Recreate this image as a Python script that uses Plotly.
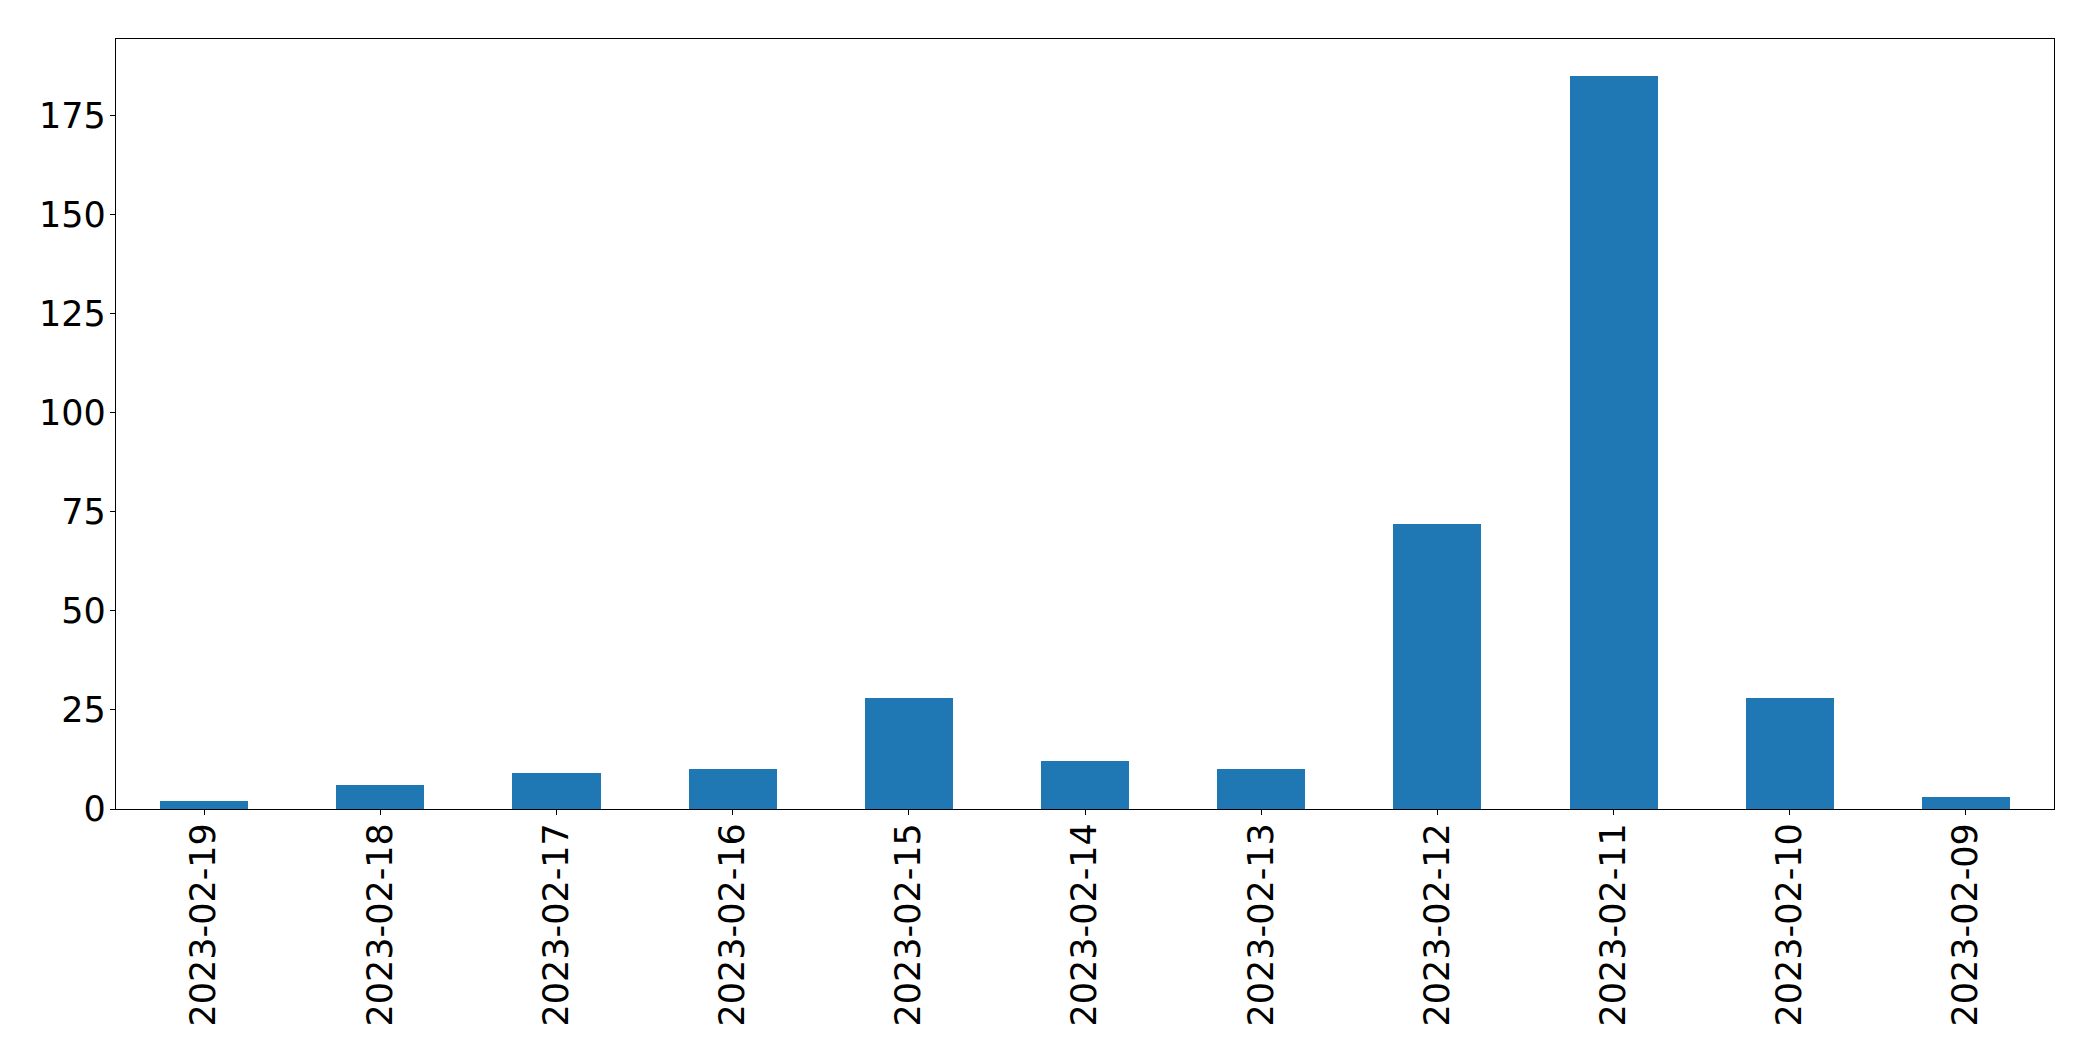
import plotly.graph_objects as go

dates = ["2023-02-19", "2023-02-18", "2023-02-17", "2023-02-16", "2023-02-15",
         "2023-02-14", "2023-02-13", "2023-02-12", "2023-02-11", "2023-02-10",
         "2023-02-09"]
counts = [2, 6, 9, 10, 28, 12, 10, 72, 185, 28, 3]
y_ticks = [0, 25, 50, 75, 100, 125, 150, 175]

fig = go.Figure()
fig.add_trace(go.Bar(x=dates, y=counts, width=0.5, marker=dict(color="#1f77b4", line=dict(width=0)),
                     showlegend=False))

font = dict(family="DejaVu Sans", size=35, color="black")
fig.update_layout(
    width=2077, height=1045,
    margin=dict(l=108, r=31, t=31, b=244, pad=0),
    paper_bgcolor="white", plot_bgcolor="white",
    font=font,
    bargap=0,
)
fig.update_xaxes(type="category", range=[-0.5, len(dates) - 0.5], tickangle=-90,
                 showline=True, linecolor="black", linewidth=1.3, mirror=True,
                 ticks="outside", ticklen=5, tickwidth=1.3, tickcolor="black",
                 ticklabelstandoff=-6,
                 showgrid=False, zeroline=False, tickfont=font)
fig.update_yaxes(range=[0, max(counts) * 1.05], tickvals=y_ticks,
                 showline=True, linecolor="black", linewidth=1.3, mirror=True,
                 ticks="outside", ticklen=5, tickwidth=1.3, tickcolor="black",
                 ticklabelstandoff=-3,
                 showgrid=False, zeroline=False, tickfont=font)

fig.write_html("out.html")
